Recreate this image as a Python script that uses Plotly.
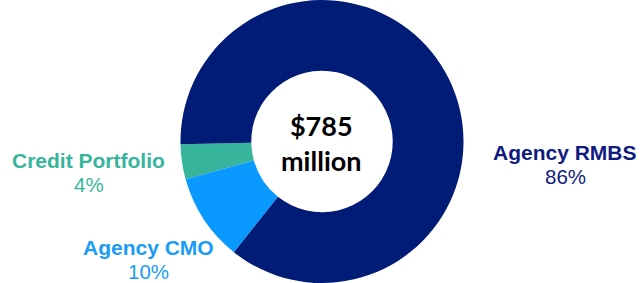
import plotly.graph_objects as go

categories = ["Credit Portfolio", "Agency CMO", "Agency RMBS"]
values = [4, 10, 86]
pct_labels = ["4%", "10%", "86%"]
colors = ["#36B59C", "#0A99FF", "#001C77"]
text_colors = ["#36B59C", "#1A9BF5", "#0F1B7F"]
center_text = ["$785", "million"]

W, H = 642, 283
cx, cy, R = 322, 141.5, 141.5

fig = go.Figure()
fig.add_trace(go.Pie(
    labels=categories, values=values, hole=0.5,
    sort=False, direction="counterclockwise", rotation=254.5,
    marker=dict(colors=colors, line=dict(color="white", width=0)),
    textinfo="none", hoverinfo="label+percent", showlegend=False,
    domain=dict(x=[(cx - R) / W, (cx + R) / W], y=[0, 1]),
))

# (x center, name y center, pct y center) in pixels
label_pos = [(89, 160, 184), (148, 247, 271), (565, 152, 176)]
for name, pct, col, (x, yn, yp) in zip(categories, pct_labels, text_colors, label_pos):
    fig.add_annotation(
        x=x / W, y=1 - yn / H, xref="paper", yref="paper",
        text=f"<b>{name}</b>", showarrow=False,
        font=dict(family="Liberation Sans, Arial", size=21, color=col),
        xanchor="center", yanchor="middle",
    )
    fig.add_annotation(
        x=x / W, y=1 - yp / H, xref="paper", yref="paper",
        text=pct, showarrow=False,
        font=dict(family="Liberation Sans, Arial", size=20.5, color=col),
        xanchor="center", yanchor="middle",
    )

fig.add_annotation(
    x=cx / W, y=1 - 143 / H, xref="paper", yref="paper",
    text="<b>" + "<br>".join(center_text) + "</b>", showarrow=False,
    font=dict(family="Lato, Open Sans", size=27, color="black"),
    align="center", xanchor="center", yanchor="middle",
)

fig.update_layout(
    width=W, height=H, margin=dict(l=0, r=0, t=0, b=0),
    paper_bgcolor="white", plot_bgcolor="white",
)
fig.write_html("out.html", config={"displayModeBar": False},
               post_script="document.body.style.margin='0';")
